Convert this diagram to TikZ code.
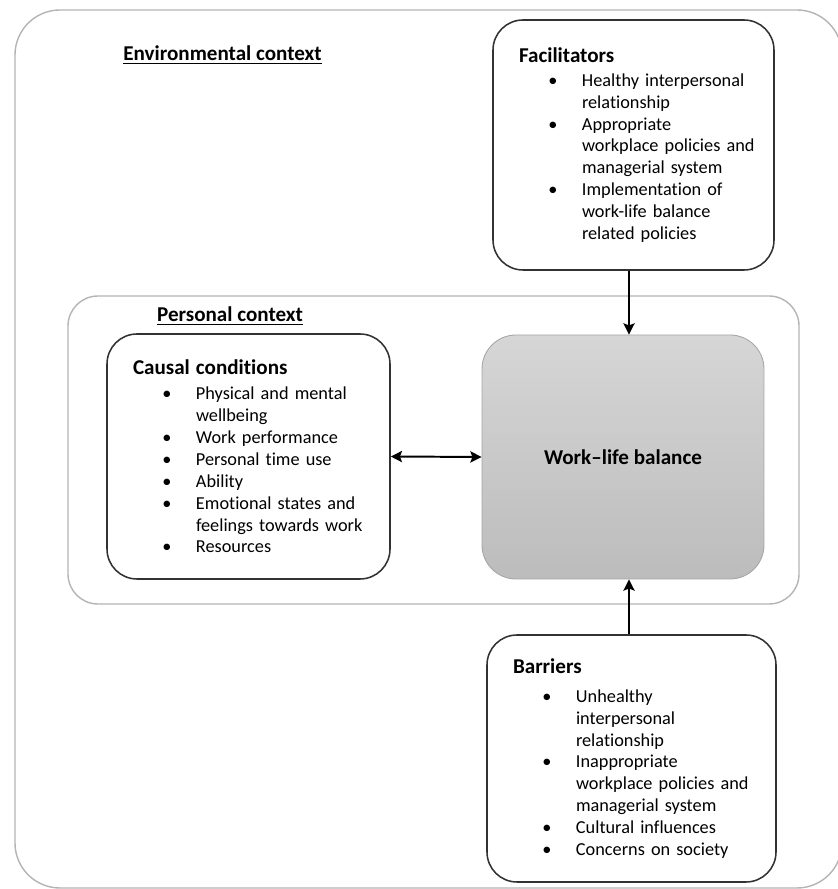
\documentclass[tikz,border=0pt]{standalone}
\usepackage{fontspec}
\setmainfont{Carlito}[Ligatures={TeX,NoCommon}]
\usetikzlibrary{arrows.meta}
\definecolor{framecol}{RGB}{180,180,180}
\definecolor{boxcol}{RGB}{50,50,50}
\definecolor{wlbtop}{RGB}{214,214,214}
\definecolor{wlbbot}{RGB}{188,188,188}
\definecolor{wlbline}{RGB}{165,165,165}
\newcommand{\btitle}[1]{{\fontsize{15}{18}\selectfont\bfseries #1}}
\newcommand{\bitem}[1]{\mbox{\hspace*{0.85cm}\makebox[0pt]{\textbullet}\hspace*{0.725cm}#1}}
\newcommand{\bcont}[1]{\mbox{\hspace*{1.575cm}#1}}

\tikzset{
    factor/.style={draw=boxcol, line width=1.1pt, rounded corners=0.75cm,
        align=left, inner xsep=0.65cm, inner ysep=0pt,
        font=\fontsize{13}{15.6}\selectfont},
    context/.style={draw=framecol, line width=1pt},
    >={Stealth[length=8pt,width=8pt,inset=1.5pt]}
}

\begin{document}
\begin{tikzpicture}
    \useasboundingbox (0,0) rectangle (20.925,22.225);

    % Outer and inner context frames
    \draw[context, rounded corners=1.125cm] (0.375,0.025) rectangle (21.05,21.975);
    \draw[context, rounded corners=0.75cm] (1.7,7.125) rectangle (19.975,14.825);
    \node (envlab) at (5.5625,20.85) {\btitle{\underline{Environmental context}}};
    \node (perlab) at (5.75,14.325) {\btitle{\underline{Personal context}}};

    % Facilitators
    \node[factor, text width=5.725cm, minimum width=7.025cm, minimum height=6.25cm]
        (fac) at (15.8375,18.6) {\btitle{Facilitators}\\[1.5pt]
        \bitem{Healthy interpersonal}\\
        \bcont{relationship}\\
        \bitem{Appropriate}\\
        \bcont{workplace policies and}\\
        \bcont{managerial system}\\
        \bitem{Implementation of}\\
        \bcont{work-life balance}\\
        \bcont{related policies}};

    % Causal conditions
    \node[factor, text width=5.775cm, minimum width=7.075cm, minimum height=6.125cm]
        (cc) at (6.2125,10.8125) {\btitle{Causal conditions}\\[2pt]
        \bitem{Physical and mental}\\
        \bcont{wellbeing}\\
        \bitem{Work performance}\\
        \bitem{Personal time use}\\
        \bitem{Ability}\\
        \bitem{Emotional states and}\\
        \bcont{feelings towards work}\\
        \bitem{Resources}};

    % Work-life balance
    \node[draw=wlbline, line width=0.6pt, rounded corners=0.85cm,
        top color=wlbtop, bottom color=wlbbot,
        minimum width=7.05cm, minimum height=6.1cm]
        (wlb) at (15.575,10.8) {\btitle{Work–life balance}};

    % Barriers
    \node[factor, text width=5.925cm, minimum width=7.225cm, minimum height=6.175cm]
        (bar) at (15.7875,3.2625) {\btitle{Barriers}\\[5pt]
        \bitem{Unhealthy}\\
        \bcont{interpersonal}\\
        \bcont{relationship}\\
        \bitem{Inappropriate}\\
        \bcont{workplace policies and}\\
        \bcont{managerial system}\\
        \bitem{Cultural influences}\\
        \bitem{Concerns on society}};

    % Arrows
    \coordinate (vline) at (15.725,0);
    \draw[->, line width=1.4pt] (vline |- fac.south) -- (vline |- wlb.north);
    \draw[->, line width=1.4pt] (vline |- bar.north) -- (vline |- wlb.south);
    \draw[<->, line width=1.4pt] (cc.east) -- (wlb.west);

\end{tikzpicture}
\end{document}
